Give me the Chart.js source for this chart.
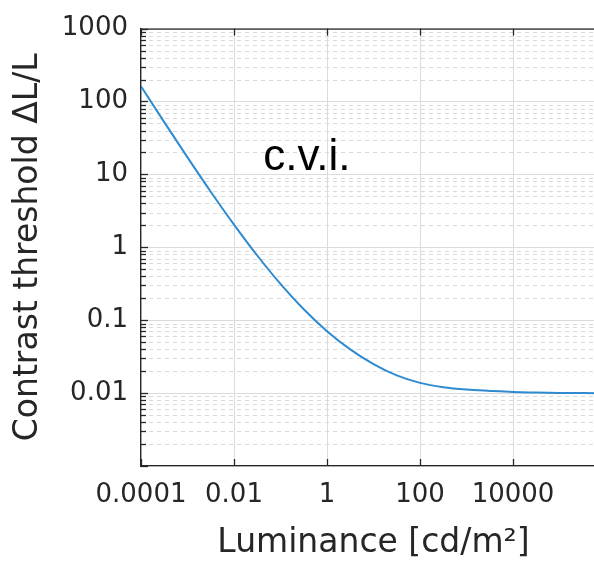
<!DOCTYPE html>
<html>
<head>
<meta charset="utf-8">
<script src="https://cdn.jsdelivr.net/npm/chart.js@4"></script>
<style>
html, body { margin: 0; padding: 0; overflow: hidden; background: #fff; }
#wrap { position: relative; width: 620px; height: 562px; }
</style>
</head>
<body>
<div id="wrap"><canvas id="c"></canvas></div>
<script>
// ---- data ----
const luminance = [1e-4, 3.16e-4, 1e-3, 3.16e-3, 1e-2, 3.16e-2, 1e-1, 3.16e-1, 1, 3.16, 10, 31.6, 100, 316, 1000, 3162, 1e4, 31623, 1e5, 316228, 1e6];
const threshold = [162, 52.2, 17.1, 5.79, 2.05, 0.772, 0.3145, 0.1413, 0.0708, 0.0398, 0.0250, 0.01748, 0.0138, 0.01205, 0.01118, 0.01072, 0.01035, 0.01019, 0.01007, 0.0100, 0.00995];
const xTickValues = [1e-4, 1e-2, 1, 1e2, 1e4, 1e6];
const xTickLabels = ['0.0001', '0.01', '1', '100', '10000', ''];
const yTickValues = [1e-3, 1e-2, 1e-1, 1, 10, 100, 1000];
const yTickLabels = ['', '0.01', '0.1', '1', '10', '100', '1000'];
const annotationText = 'c.v.i.';
const annotationAt = { x: 0.37, y: 10 };
const xTitle = 'Luminance [cd/m\u00B2]';
const yTitle = 'Contrast threshold \u0394L/L';

const AXIS = '#262626';
const MAJOR_GRID = '#dcdcdc';
const MINOR_GRID = '#dadada';

function isDecade(v) {
  const l = Math.log10(v);
  return Math.abs(l - Math.round(l)) < 1e-9;
}

const decorPlugin = {
  id: 'decor',
  beforeDatasetsDraw(chart) {
    const { ctx, chartArea: a, scales: { y } } = chart;
    ctx.save();
    ctx.strokeStyle = MINOR_GRID;
    ctx.lineWidth = 1;
    ctx.setLineDash([4, 4]);
    y.ticks.forEach(t => {
      if (isDecade(t.value)) return;
      const py = Math.round(y.getPixelForValue(t.value)) + 0.5;
      ctx.beginPath(); ctx.moveTo(a.left, py); ctx.lineTo(a.right, py); ctx.stroke();
    });
    ctx.restore();
  },
  afterDatasetsDraw(chart) {
    const { ctx, chartArea: a, scales: { x, y } } = chart;
    ctx.save();
    ctx.strokeStyle = AXIS;
    ctx.lineWidth = 1.3;
    ctx.beginPath(); ctx.moveTo(a.left, a.top + 0.5); ctx.lineTo(a.right, a.top + 0.5); ctx.stroke();
    xTickValues.forEach(v => {
      const px = Math.round(x.getPixelForValue(v)) + 0.5;
      ctx.beginPath(); ctx.moveTo(px, a.bottom); ctx.lineTo(px, a.bottom - 7); ctx.stroke();
      ctx.beginPath(); ctx.moveTo(px, a.top); ctx.lineTo(px, a.top + 7); ctx.stroke();
    });
    y.ticks.forEach(t => {
      const py = Math.round(y.getPixelForValue(t.value)) + 0.5;
      const len = isDecade(t.value) ? 7 : 5;
      ctx.beginPath(); ctx.moveTo(a.left, py); ctx.lineTo(a.left + len, py); ctx.stroke();
    });
    ctx.fillStyle = '#000';
    ctx.font = '44px "Liberation Sans", Arial, sans-serif';
    ctx.textAlign = 'center';
    ctx.textBaseline = 'alphabetic';
    ctx.fillText(annotationText, x.getPixelForValue(annotationAt.x), y.getPixelForValue(annotationAt.y) - 4);
    ctx.restore();
  }
};

new Chart(document.getElementById('c'), {
  type: 'line',
  data: {
    datasets: [{
      data: luminance.map((v, i) => ({ x: v, y: threshold[i] })),
      borderColor: '#2f8bd0',
      borderWidth: 2,
      pointRadius: 0,
      cubicInterpolationMode: 'monotone',
      fill: false
    }]
  },
  options: {
    responsive: true,
    maintainAspectRatio: false,
    animation: false,
    layout: { padding: { top: 20, right: 14, bottom: 0, left: 0 } },
    plugins: { legend: { display: false }, tooltip: { enabled: false } },
    scales: {
      x: {
        type: 'logarithmic',
        min: 1e-4,
        max: 1e6,
        afterBuildTicks(s) { s.ticks = xTickValues.map(v => ({ value: v })); },
        afterFit(s) { s.height = 96; },
        ticks: {
          autoSkip: false,
          maxRotation: 0,
          padding: 14,
          color: AXIS,
          font: { family: '"DejaVu Sans"', size: 26 },
          callback(v) { const i = xTickValues.findIndex(t => Math.abs(Math.log10(t) - Math.log10(v)) < 1e-6); return i >= 0 ? xTickLabels[i] : ''; }
        },
        grid: { color: MAJOR_GRID, lineWidth: 1, drawTicks: false },
        border: { color: AXIS, width: 1.3 },
        title: {
          display: true, text: xTitle, color: AXIS,
          font: { family: '"DejaVu Sans"', size: 33, lineHeight: 1.0 },
          padding: { top: 0, bottom: 2 }
        }
      },
      y: {
        type: 'logarithmic',
        min: 1e-3,
        max: 1e3,
        afterBuildTicks(s) {
          const t = [];
          for (let e = -3; e <= 3; e++) {
            for (let m = 1; m <= 9; m++) {
              const v = m * Math.pow(10, e);
              if (v <= 1000 + 1e-9) t.push({ value: v });
            }
          }
          s.ticks = t;
        },
        afterFit(s) { s.width = 141; },
        ticks: {
          autoSkip: false,
          padding: 13,
          color: AXIS,
          font: { family: '"DejaVu Sans"', size: 26 },
          callback(v) { const i = yTickValues.findIndex(t => Math.abs(Math.log10(t) - Math.log10(v)) < 1e-6); return i >= 0 ? yTickLabels[i] : ''; }
        },
        grid: { color: ctx => (ctx.tick && isDecade(ctx.tick.value)) ? MAJOR_GRID : 'rgba(0,0,0,0)', lineWidth: 1, drawTicks: false },
        border: { color: AXIS, width: 1.3 },
        title: {
          display: true, text: yTitle, color: AXIS,
          font: { family: '"DejaVu Sans"', size: 33, lineHeight: 1.2 },
          padding: { top: 9, bottom: 0 }
        }
      }
    }
  },
  plugins: [decorPlugin]
});
</script>
</body>
</html>
